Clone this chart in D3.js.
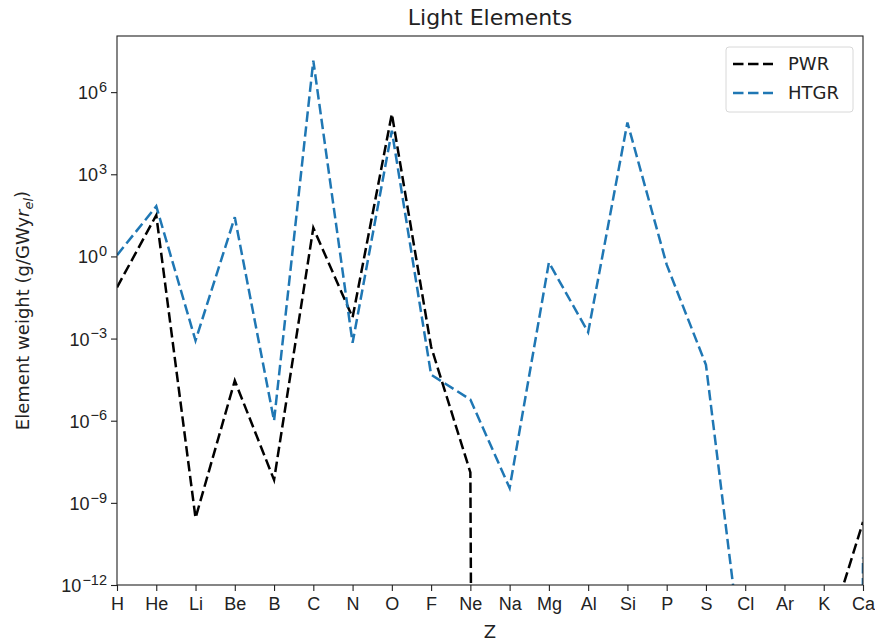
<!DOCTYPE html>
<html>
<head>
<meta charset="utf-8">
<script src="https://cdn.jsdelivr.net/npm/d3@7"></script>
<style>
  body { margin: 0; background: #fff; }
  svg { font-family: "DejaVu Sans", sans-serif; }
</style>
</head>
<body>
<div id="chart"></div>
<script>
const elements = ["H", "He", "Li", "Be", "B", "C", "N", "O", "F", "Ne",
  "Na", "Mg", "Al", "Si", "P", "S", "Cl", "Ar", "K", "Ca"];
// zero = nothing produced (drawn as clipped to the bottom, like matplotlib)
const pwr = [7.4e-2, 3.2e1, 2.8e-10, 2.9e-5, 6.9e-9, 1.1e1, 5.9e-3, 1.6e5, 5.0e-4, 1.3e-8,
  0, 0, 0, 0, 0, 0, 0, 0, 5e-15, 2e-10];
const htgr = [1.1, 6.8e1, 8.5e-4, 2.7e1, 1.0e-6, 1.4e7, 7e-4, 3.9e4, 4.8e-5, 5.9e-6,
  3.5e-9, 0.6, 1.7e-3, 7.8e4, 0.5, 1.1e-4, 2.5e-16, 0, 0, 1e-11];
const yTicks = [-12, -9, -6, -3, 0, 3, 6];

const width = 875, height = 643;
const margin = { top: 36, right: 12, bottom: 58, left: 117 };
const innerW = width - margin.left - margin.right;
const innerH = height - margin.top - margin.bottom;

const svg = d3.select("#chart")
  .append("svg")
  .attr("width", width)
  .attr("height", height);

const g = svg.append("g")
  .attr("transform", `translate(${margin.left},${margin.top})`);

const x = d3.scaleLinear().domain([1, 20]).range([0, innerW]);
const y = d3.scaleLog().domain([1e-12, Math.pow(10, 8.05)]).range([innerH, 0]);

g.append("clipPath").attr("id", "plot")
  .append("rect").attr("width", innerW).attr("height", innerH);

const line = d3.line()
  .x((d, i) => x(i + 1))
  .y(d => y(Math.max(d, 1e-300)));

const series = [
  { name: "PWR", values: pwr, color: "#000000" },
  { name: "HTGR", values: htgr, color: "#1f77b4" }
];

g.append("g").attr("clip-path", "url(#plot)")
  .selectAll("path")
  .data(series)
  .join("path")
  .attr("fill", "none")
  .attr("stroke", d => d.color)
  .attr("stroke-width", 2.5)
  .attr("stroke-dasharray", "10.5,4.5")
  .attr("d", d => line(d.values));

// x axis
const xAxis = g.append("g")
  .attr("transform", `translate(0,${innerH})`)
  .call(d3.axisBottom(x)
    .tickValues(d3.range(1, 21))
    .tickFormat(d => elements[d - 1])
    .tickSize(6).tickPadding(6));

// y axis
const yAxis = g.append("g")
  .call(d3.axisLeft(y)
    .tickValues(yTicks.map(e => Math.pow(10, e)))
    .tickFormat("")
    .tickSize(6));

yAxis.selectAll(".tick").each(function(d) {
  const e = Math.round(Math.log10(d));
  const t = d3.select(this).append("text")
    .attr("x", -10)
    .attr("dy", "0.36em")
    .attr("text-anchor", "end")
    .attr("fill", "#222")
    .attr("font-size", 18);
  t.append("tspan").text("10");
  t.append("tspan")
    .attr("dx", 1)
    .attr("dy", "-0.5em")
    .attr("font-size", 14.5)
    .text(String(e).replace("-", "\u2212"));
});

[xAxis, yAxis].forEach(a => {
  a.select(".domain").remove();
  a.selectAll("line").attr("stroke", "#222").attr("stroke-width", 1.1);
  a.selectAll("text").attr("fill", "#222");
});
xAxis.selectAll("text").attr("font-size", 18);

// frame
g.append("rect")
  .attr("width", innerW).attr("height", innerH)
  .attr("fill", "none").attr("stroke", "#222").attr("stroke-width", 1.1);

// title and labels
svg.append("text")
  .attr("x", margin.left + innerW / 2)
  .attr("y", 25)
  .attr("text-anchor", "middle")
  .attr("font-size", 22)
  .attr("fill", "#222")
  .text("Light Elements");

svg.append("text")
  .attr("x", margin.left + innerW / 2)
  .attr("y", 638)
  .attr("text-anchor", "middle")
  .attr("font-size", 18)
  .attr("fill", "#222")
  .text("Z");

const yl = svg.append("text")
  .attr("transform", `translate(29,${margin.top + innerH / 2}) rotate(-90)`)
  .attr("text-anchor", "middle")
  .attr("font-size", 18)
  .attr("fill", "#222");
yl.append("tspan").text("Element weight (g/GWy");
yl.append("tspan").attr("font-style", "italic").text("r");
yl.append("tspan").attr("font-style", "italic").attr("font-size", 13).attr("dy", "0.3em").text("el");
yl.append("tspan").attr("dy", "-0.3em").text(")");

// legend
const legend = g.append("g")
  .attr("transform", `translate(${innerW - 137},11)`);

legend.append("rect")
  .attr("width", 127).attr("height", 65)
  .attr("rx", 3)
  .attr("fill", "#fff").attr("fill-opacity", 0.8)
  .attr("stroke", "#d8d8d8");

const item = legend.selectAll(".item")
  .data(series)
  .join("g")
  .attr("class", "item")
  .attr("transform", (d, i) => `translate(0,${17 + i * 29})`);

item.append("line")
  .attr("x1", 7).attr("x2", 47)
  .attr("stroke", d => d.color)
  .attr("stroke-width", 2.5)
  .attr("stroke-dasharray", "10.5,4.5");

item.append("text")
  .attr("x", 62)
  .attr("dy", "0.36em")
  .attr("font-size", 18)
  .attr("fill", "#222")
  .text(d => d.name);
</script>
</body>
</html>
